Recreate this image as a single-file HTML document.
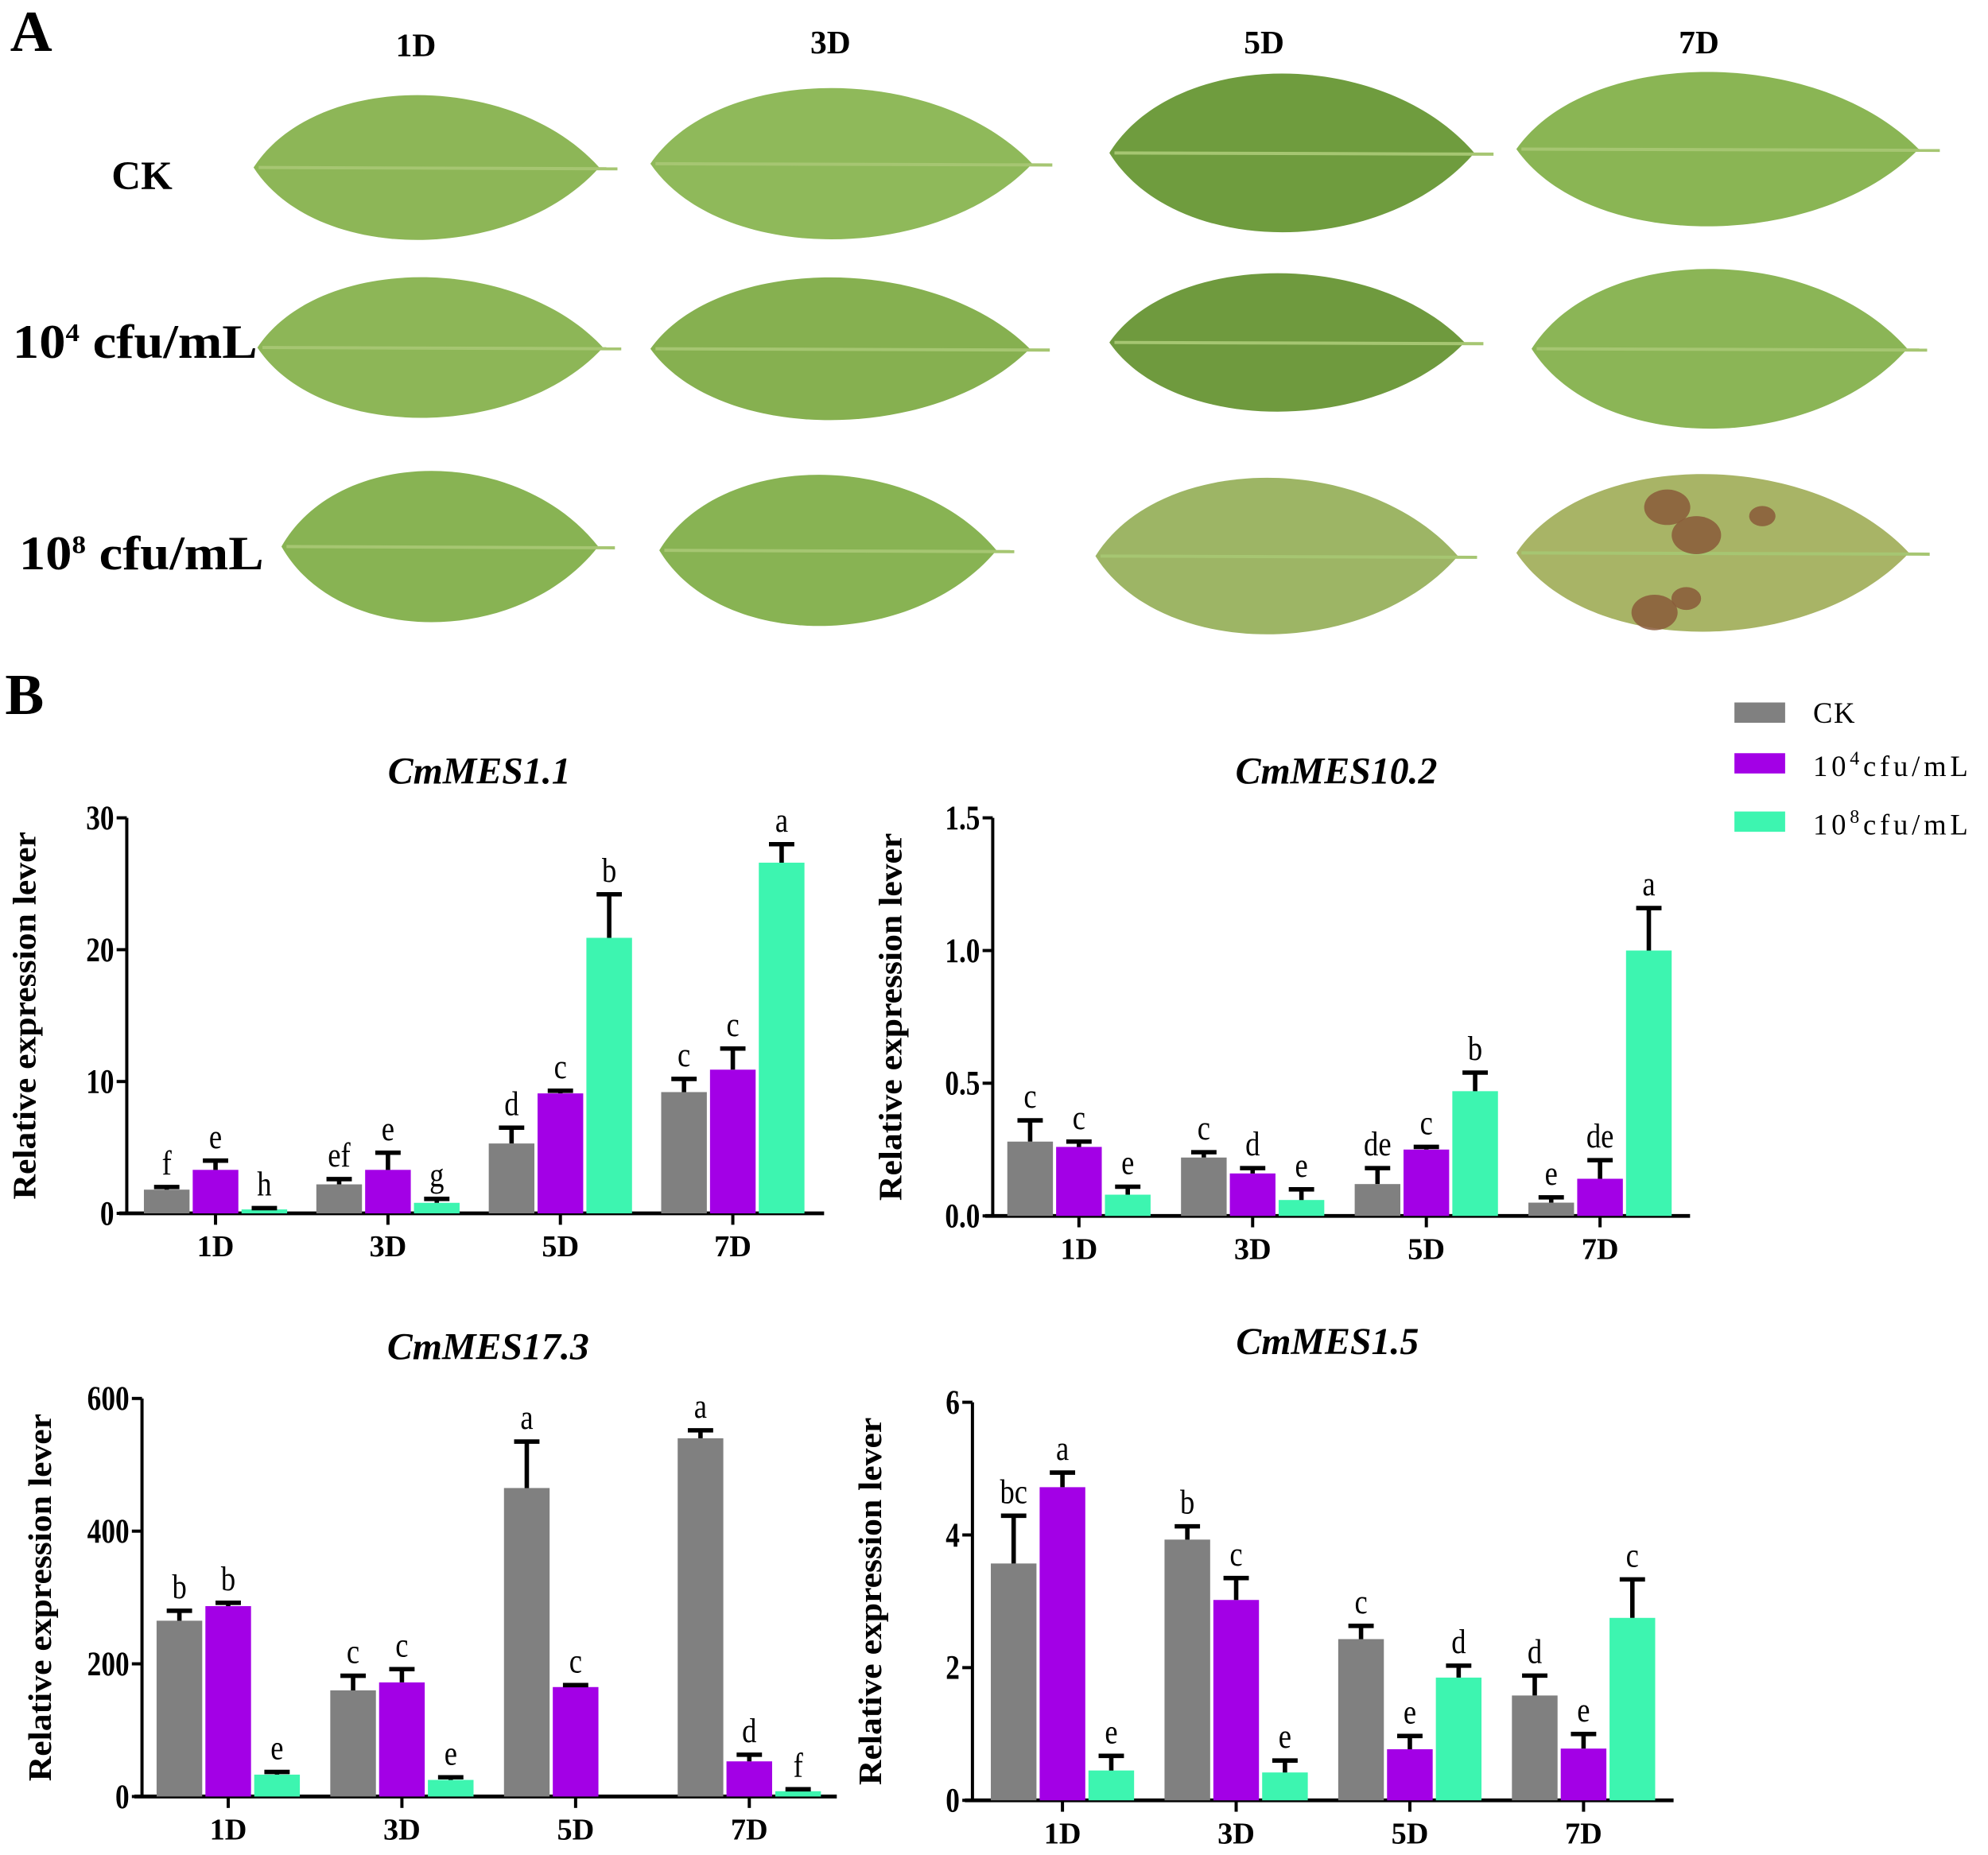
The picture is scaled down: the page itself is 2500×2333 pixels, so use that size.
<!DOCTYPE html>
<html><head><meta charset="utf-8">
<style>
html,body{margin:0;padding:0;background:#fff;}
svg{display:block;font-family:"Liberation Serif",serif;}
</style></head>
<body>
<svg id="fig" width="2500" height="2333" viewBox="0 0 1568 1463" xmlns="http://www.w3.org/2000/svg">
<g id="leaves"></g>
<g id="panelA">
<text x="8" y="40" font-size="46" font-weight="bold">A</text>
<text x="328" y="44" font-size="26" font-weight="bold" text-anchor="middle">1D</text>
<text x="655" y="42" font-size="26" font-weight="bold" text-anchor="middle">3D</text>
<text x="997" y="42" font-size="26" font-weight="bold" text-anchor="middle">5D</text>
<text x="1340" y="42" font-size="26" font-weight="bold" text-anchor="middle">7D</text>
<text x="88" y="149" font-size="32" font-weight="bold">CK</text>
<text x="10" y="282" font-size="38" font-weight="bold" textLength="193" lengthAdjust="spacingAndGlyphs">10<tspan dy="-13" font-size="20">4</tspan><tspan dy="13"> cfu/mL</tspan></text>
<text x="15" y="449" font-size="38" font-weight="bold" textLength="193" lengthAdjust="spacingAndGlyphs">10<tspan dy="-13" font-size="20">8</tspan><tspan dy="13"> cfu/mL</tspan></text>
</g>
<text x="4" y="563" font-size="46" font-weight="bold">B</text>
<g>
<rect x="1368" y="554" width="40" height="16" fill="#808080"/>
<text x="1430" y="570" font-size="23" letter-spacing="1">CK</text>
<rect x="1368" y="594" width="40" height="16" fill="#a300e6"/>
<text x="1430" y="612" font-size="23" letter-spacing="3">10<tspan dy="-9" font-size="15">4</tspan><tspan dy="9">cfu/mL</tspan></text>
<rect x="1368" y="640" width="40" height="16" fill="#3df5b0"/>
<text x="1430" y="658" font-size="23" letter-spacing="3">10<tspan dy="-9" font-size="15">8</tspan><tspan dy="9">cfu/mL</tspan></text>
</g>
<g id="charts"></g>
</svg>
<script>
const NS="http://www.w3.org/2000/svg";
function mk(tag,attrs,parent,txt){const e=document.createElementNS(NS,tag);for(const k in attrs)e.setAttribute(k,attrs[k]);if(txt!==undefined)e.textContent=txt;parent.appendChild(e);return e;}

const leafBoxes=[
 [200,487,64,200,"#8db657"],[513,830,58,200,"#8fb95a"],[875,1178,46,195,"#6f9c3e"],[1196,1530,45,190,"#8ab554"],
 [203,490,208,340,"#8db657"],[513,828,208,342,"#86b050"],[875,1170,205,335,"#6f9a3e"],[1208,1520,200,350,"#8bb556"],
 [222,485,360,502,"#88b353"],[520,800,363,505,"#88b353"],[864,1165,365,512,"#9db565"],[1196,1522,362,510,"#a8b466"]];
const leafG=document.getElementById('leaves');
leafBoxes.forEach((b,i)=>{
 const [x0,x1,yt,yb,c]=b;const cy=(yt+yb)/2;const w=x1-x0;
 const lx=x0, rx=x1-w*0.05;const lw=rx-lx;
 const k=(yb-yt)*0.56;
 const d=`M ${lx} ${cy} C ${lx+lw*0.18} ${cy-k}, ${lx+lw*0.75} ${cy-k}, ${rx} ${cy} C ${lx+lw*0.75} ${cy+k}, ${lx+lw*0.18} ${cy+k}, ${lx} ${cy} Z`;
 const p=mk('path',{d:d,fill:c},leafG);
 
 
 const m=mk('line',{x1:lx+4,y1:cy,x2:x1,y2:cy+1,stroke:'#a6c672','stroke-width':2.5},leafG);
 
 
});
[[1315,400,14],[1338,422,15],[1390,407,8],[1305,483,14],[1330,472,9]].forEach(s=>{
 const e=mk('ellipse',{cx:s[0],cy:s[1],rx:s[2]*1.3,ry:s[2],fill:'#8a5a3a',opacity:0.85},leafG);
 
 
});

const groups=["1D","3D","5D","7D"];
const c1_ck=[1.8,2.2,5.3,9.2], c1_ck_err=[0.2,0.4,1.2,1.0];
const c1_lo=[3.3,3.3,9.1,10.9], c1_lo_err=[0.7,1.3,0.2,1.6];
const c1_hi=[0.3,0.8,20.9,26.6], c1_hi_err=[0.1,0.3,3.3,1.4];
const c1_letters=[["f","e","h"],["ef","e","g"],["d","c","b"],["c","c","a"]];
const c1_ticks=[0,10,20,30];
const c2_ck=[0.28,0.22,0.12,0.05], c2_ck_err=[0.08,0.02,0.06,0.02];
const c2_lo=[0.26,0.16,0.25,0.14], c2_lo_err=[0.02,0.02,0.01,0.07];
const c2_hi=[0.08,0.06,0.47,1.0], c2_hi_err=[0.03,0.04,0.07,0.16];
const c2_letters=[["c","c","e"],["c","d","e"],["de","c","b"],["e","de","a"]];
const c2_ticks=["0.0","0.5","1.0","1.5"];
const c3_ck=[265,160,465,540], c3_ck_err=[15,22,70,12];
const c3_lo=[287,172,165,53], c3_lo_err=[5,20,3,10];
const c3_hi=[33,25,0,8], c3_hi_err=[4,4,0,3];
const c3_letters=[["b","b","e"],["c","c","e"],["a","c",""],["a","d","f"]];
const c3_ticks=[0,200,400,600];
const c4_ck=[3.57,3.93,2.43,1.58], c4_ck_err=[0.72,0.2,0.2,0.3];
const c4_lo=[4.72,3.02,0.77,0.78], c4_lo_err=[0.22,0.33,0.2,0.22];
const c4_hi=[0.45,0.42,1.85,2.75], c4_hi_err=[0.22,0.18,0.18,0.58];
const c4_letters=[["bc","a","e"],["b","c","e"],["c","e","d"],["d","e","c"]];
const c4_ticks=[0,2,4,6];
const colors=["#808080","#a300e6","#3df5b0"];

function chart(cfg){
 const g=mk('g',{},document.getElementById('charts'));
 
 
 const ymax=Number(cfg.ticks[cfg.ticks.length-1]);
 const y=v=>cfg.y0-(v/ymax)*(cfg.y0-cfg.y1);
 const gx=i=>cfg.g0+i*cfg.gs;
 const t=mk('text',{x:cfg.tx,y:cfg.ty,'font-size':30,'font-weight':'bold','font-style':'italic','text-anchor':'middle'},g,cfg.title);
 
 
 const yt=mk('text',{x:0,y:0,'font-size':26,'font-weight':'bold','text-anchor':'middle',textLength:290,lengthAdjust:'spacingAndGlyphs',transform:`translate(${cfg.x0-72},${(cfg.y0+cfg.y1)/2}) rotate(-90)`},g,'Relative expression lever');
 
 
 const ya=mk('line',{x1:cfg.x0,y1:cfg.y1,x2:cfg.x0,y2:cfg.y0,stroke:'#000','stroke-width':2.5},g);
 
 
 const xa=mk('line',{x1:cfg.x0-6,y1:cfg.y0,x2:cfg.x1,y2:cfg.y0,stroke:'#000','stroke-width':3},g);
 
 
 cfg.ticks.forEach(tk=>{
  const yy=y(Number(tk));
  const l=mk('line',{x1:cfg.x0-8,y1:yy,x2:cfg.x0,y2:yy,stroke:'#000','stroke-width':2.5},g);
  
  
  const tl=mk('text',{x:0,y:0,'font-size':27,'font-weight':'bold','text-anchor':'end',transform:`translate(${cfg.x0-10},${yy+9}) scale(0.82,1)`},g,String(tk));
  
  
 });
 groups.forEach((gn,i)=>{
  const xl=mk('text',{x:gx(i),y:cfg.y0+34,'font-size':24,'font-weight':'bold','text-anchor':'middle'},g,gn);
  
  
  const xt=mk('line',{x1:gx(i),y1:cfg.y0,x2:gx(i),y2:cfg.y0+9,stroke:'#000','stroke-width':2.5},g);
  
  
  cfg.series.forEach((s,j)=>{
   const v=s[0][i], e=s[1][i];
   const cx=gx(i)+(j-1)*38.5, bw=36;
   if(v>0){
    const r=mk('rect',{x:cx-bw/2,y:y(v),width:bw,height:cfg.y0-y(v),fill:colors[j]},g);
    
    
    const el=mk('path',{d:`M ${cx} ${y(v)} V ${y(v+e)} M ${cx-10} ${y(v+e)} H ${cx+10}`,stroke:'#000','stroke-width':3.5,fill:'none'},g);
    
    
   }
   const lt=cfg.letters[i][j];
   if(lt){
    const tx=mk('text',{x:0,y:0,'font-size':27,'text-anchor':'middle',transform:`translate(${cx},${y(v+e)-10}) scale(0.85,1)`},g,lt);
    
    
   }
  });
 });
}
chart({name:'chart-cmmes1-1',title:'CmMES1.1',tx:378,ty:618,x0:100,x1:650,y0:957,y1:645,g0:170,gs:136,ticks:c1_ticks,
 series:[[c1_ck,c1_ck_err],[c1_lo,c1_lo_err],[c1_hi,c1_hi_err]],letters:c1_letters});
chart({name:'chart-cmmes10-2',title:'CmMES10.2',tx:1054,ty:618,x0:783,x1:1333,y0:959,y1:645,g0:851,gs:137,ticks:c2_ticks,
 series:[[c2_ck,c2_ck_err],[c2_lo,c2_lo_err],[c2_hi,c2_hi_err]],letters:c2_letters});
chart({name:'chart-cmmes17-3',title:'CmMES17.3',tx:385,ty:1072,x0:112,x1:660,y0:1417,y1:1103,g0:180,gs:137,ticks:c3_ticks,
 series:[[c3_ck,c3_ck_err],[c3_lo,c3_lo_err],[c3_hi,c3_hi_err]],letters:c3_letters});
chart({name:'chart-cmmes1-5',title:'CmMES1.5',tx:1047,ty:1068,x0:767,x1:1320,y0:1420,y1:1106,g0:838,gs:137,ticks:c4_ticks,
 series:[[c4_ck,c4_ck_err],[c4_lo,c4_lo_err],[c4_hi,c4_hi_err]],letters:c4_letters});
</script>
</body></html>
